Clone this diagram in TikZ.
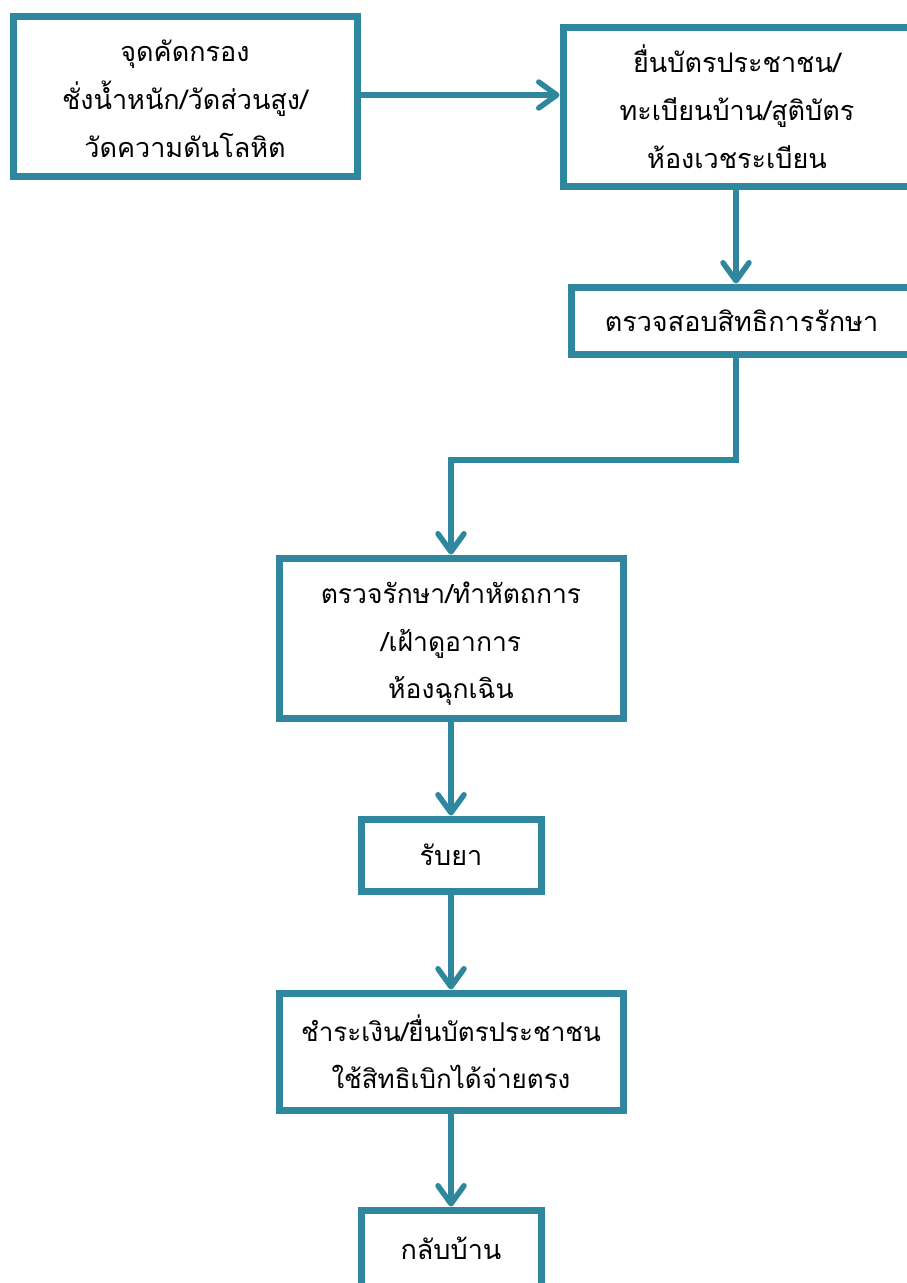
\documentclass[tikz,border=0pt]{standalone}
\usepackage{fontspec}
\newfontfamily\thaifont[Script=Thai]{Loma}
\usetikzlibrary{arrows.meta}
\definecolor{flowblue}{HTML}{2F879E}
\begin{document}
\begin{tikzpicture}[x=1pt,y=-1pt,
  box/.style={draw=flowblue,line width=7pt,fill=white,inner sep=0pt},
  label/.style={align=center,inner sep=0pt,
    font=\thaifont\fontsize{27}{48}\selectfont},
  conn/.style={draw=flowblue,line width=5.5pt,
    -{Straight Barb[length=18pt,width=26pt,round]}}]
\useasboundingbox (0,0) rectangle (907,1283);
\fill[white] (0,0) rectangle (907,1283);
% boxes
\node[box,minimum width=344pt,minimum height=160pt] (b1) at (185,96) {};
\node[box,minimum width=349pt,minimum height=159pt] (b2) at (737.5,106.5) {};
\node[box,minimum width=341pt,minimum height=67pt] (b3) at (741.5,320.5) {};
\node[box,minimum width=344pt,minimum height=160pt] (b4) at (451,638) {};
\node[box,minimum width=180pt,minimum height=72pt] (b5) at (451,855) {};
\node[box,minimum width=344pt,minimum height=117pt] (b6) at (451,1051.5) {};
\node[box,minimum width=180pt,minimum height=84pt] (b7) at (451,1252) {};
% texts
\node[label] (t1) at (185,99)
  {จุดคัดกรอง\\ชั่งน้ำหนัก/วัดส่วนสูง/\\วัดความดันโลหิต};
\node[label] (t2) at (737,106.5)
  {ยื่นบัตรประชาชน/\\ทะเบียนบ้าน/สูติบัตร\\ห้องเวชระเบียน};
\node[label] (t3) at (741.5,320.5) {ตรวจสอบสิทธิการรักษา};
\node[label,font=\thaifont\fontsize{26.5}{47.5}\selectfont] (t4) at (451,644)
  {ตรวจรักษา/ทำหัตถการ\\/เฝ้าดูอาการ\\ห้องฉุกเฉิน};
\node[label] (t5) at (451,855) {รับยา};
\node[label,font=\thaifont\fontsize{26}{47}\selectfont] (t6) at (451,1051.5)
  {ชำระเงิน/ยื่นบัตรประชาชน\\ใช้สิทธิเบิกได้จ่ายตรง};
\node[label] (t7) at (451,1248) {กลับบ้าน};
% connectors
\coordinate (bend) at (736,460);
\draw[conn] (b1.east |- 0,95) -- (b2.west |- 0,95);
\draw[conn] (736,186) -- (b3.north -| 736,0);
\draw[conn] (736,354) -- (bend) -| (b4.north);
\draw[conn] (b4.south) -- (b5.north);
\draw[conn] (b5.south) -- (b6.north);
\draw[conn] (b6.south) -- (b7.north);
\end{tikzpicture}
\end{document}
